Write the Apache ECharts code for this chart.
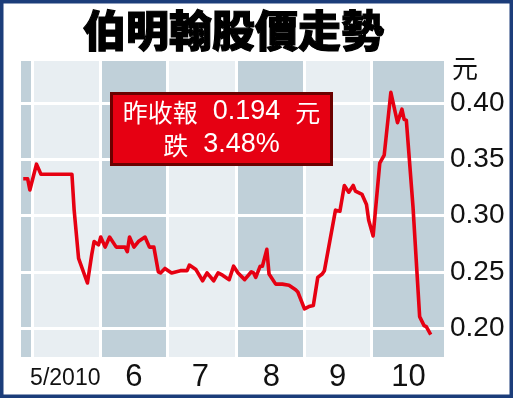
<!DOCTYPE html>
<html><head><meta charset="utf-8">
<script src="https://cdn.jsdelivr.net/npm/echarts@6/dist/echarts.min.js"></script>
<style>html,body{margin:0;padding:0;background:#fff}#c{width:513px;height:398px}</style>
</head><body><div id="c"></div>
<script>
// ---- data ----
const dates = ['2010-04-27','2010-04-29','2010-04-30','2010-05-03','2010-05-05','2010-05-10','2010-05-14','2010-05-19','2010-05-20','2010-05-22','2010-05-26','2010-05-28','2010-05-29','2010-05-31',
'2010-06-01','2010-06-03','2010-06-05','2010-06-08','2010-06-12','2010-06-13','2010-06-14','2010-06-16','2010-06-18','2010-06-21','2010-06-23','2010-06-25','2010-06-27','2010-06-28','2010-06-30',
'2010-07-03','2010-07-07','2010-07-10','2010-07-11','2010-07-14','2010-07-17','2010-07-19','2010-07-22','2010-07-24','2010-07-26','2010-07-29','2010-07-31',
'2010-08-02','2010-08-05','2010-08-08','2010-08-09','2010-08-10','2010-08-12','2010-08-13','2010-08-15','2010-08-16','2010-08-19','2010-08-22','2010-08-25','2010-08-28','2010-08-29',
'2010-09-01','2010-09-03','2010-09-05','2010-09-07','2010-09-09','2010-09-10','2010-09-15','2010-09-17','2010-09-19','2010-09-21','2010-09-23','2010-09-24','2010-09-27','2010-09-29','2010-09-30',
'2010-10-02','2010-10-05','2010-10-07','2010-10-10','2010-10-13','2010-10-15','2010-10-16','2010-10-17','2010-10-20','2010-10-23','2010-10-25','2010-10-26','2010-10-28'];
const prices = [0.333,0.333,0.323,0.346,0.337,0.337,0.337,0.337,0.305,0.262,0.240,0.266,0.277,0.274,
0.281,0.272,0.281,0.272,0.272,0.268,0.281,0.272,0.277,0.281,0.272,0.272,0.250,0.249,0.253,
0.249,0.251,0.251,0.256,0.252,0.242,0.249,0.242,0.249,0.247,0.243,0.255,
0.249,0.243,0.250,0.249,0.245,0.255,0.255,0.270,0.248,0.239,0.239,0.238,0.234,0.232,
0.217,0.219,0.220,0.245,0.248,0.251,0.305,0.304,0.327,0.321,0.327,0.322,0.319,0.310,0.296,
0.282,0.347,0.354,0.410,0.383,0.395,0.386,0.385,0.308,0.210,0.202,0.201,0.194];
const bandEdges = ['2010-04-26','2010-05-01','2010-06-01','2010-07-01','2010-08-01','2010-09-01','2010-10-01','2010-11-03'];
const monthStarts = ['2010-05-01','2010-06-01','2010-07-01','2010-08-01','2010-09-01','2010-10-01'];
const xLabelDates = ['2010-05-16','2010-06-16','2010-07-16','2010-08-17','2010-09-16','2010-10-18'];
const xLabels = ['5/2010','6','7','8','9','10'];
const yTicks = [0.20,0.25,0.30,0.35,0.40];
const titleText = '伯明翰股價走勢';
const unitText = '元';
const noteLine1 = ['昨收報', '0.194', '元'];
const noteLine2 = ['跌', '3.48%'];

// ---- build ----
function d(s){ const p = s.split('-').map(Number); return new Date(p[0], p[1]-1, p[2]).getTime(); }
const DARK = '#c0d0d9', LIGHT = '#e8eef2';
const bands = [];
for (let i = 0; i < bandEdges.length - 1; i++) {
  bands.push([{xAxis: d(bandEdges[i]), itemStyle: {color: i % 2 === 0 ? DARK : LIGHT}}, {xAxis: d(bandEdges[i+1])}]);
}
const gridLines = monthStarts.map(s => ({xAxis: d(s)})).concat(yTicks.map(v => ({yAxis: v})));
const lineData = dates.map((s, i) => [d(s), prices[i]]);
const labelMap = {};
xLabelDates.forEach((s, i) => { labelMap[d(s)] = xLabels[i]; });

const chart = echarts.init(document.getElementById('c'));
chart.setOption({
  animation: false,
  backgroundColor: '#fff',
  title: {
    text: titleText, left: 83, top: 9, padding: 0,
    textStyle: {fontSize: 43, fontWeight: 900, fontFamily: 'Noto Sans CJK TC', color: '#000',
      textBorderColor: '#000', textBorderWidth: 1.2}
  },
  grid: {left: 21, right: 69, top: 61, bottom: 41, containLabel: false},
  xAxis: {
    type: 'value', min: d(bandEdges[0]), max: d(bandEdges[bandEdges.length-1]),
    axisLine: {show: false}, axisTick: {show: false}, splitLine: {show: false},
    axisLabel: {
      customValues: xLabelDates.map(d), margin: 5, fontSize: 31,
      fontFamily: 'Liberation Sans, Arial, sans-serif', color: '#111', hideOverlap: false,
      formatter: function (v) { const t = labelMap[v] || ''; return t.indexOf('/') >= 0 ? '{n|' + t + '}' : t; },
      rich: {n: {fontFamily: 'Liberation Sans, Arial, sans-serif', fontSize: 23, color: '#111', padding: [5, 0, 0, 0]}}
    }
  },
  yAxis: {
    type: 'value', position: 'right', min: 0.174, max: 0.438,
    name: unitText, nameLocation: 'end', nameGap: 6,
    nameTextStyle: {align: 'left', verticalAlign: 'top', fontSize: 26, fontFamily: 'Noto Sans CJK TC', color: '#111', padding: [0,0,0,8]},
    axisLine: {show: false}, axisTick: {show: false}, splitLine: {show: false},
    axisLabel: {customValues: yTicks, margin: 6, fontSize: 28, fontFamily: 'Liberation Sans, Arial, sans-serif', color: '#111',
      formatter: v => v.toFixed(2)}
  },
  series: [
    {type: 'line', data: [], z: 1, silent: true,
      markArea: {silent: true, z: 1, data: bands}},
    {type: 'line', data: [], z: 2, silent: true,
      markLine: {silent: true, z: 2, symbol: 'none', label: {show: false}, lineStyle: {color: '#fff', width: 3, type: 'solid'}, data: gridLines}},
    {type: 'line', data: lineData, z: 10, showSymbol: false, symbol: 'none',
      lineStyle: {color: '#e60012', width: 3.6, join: 'round'}}
  ],
  graphic: [
    {type: 'rect', z: 100, shape: {x: 1.75, y: 1.75, width: 509.5, height: 394.5},
      style: {fill: null, stroke: '#1c3d7a', lineWidth: 3.5}},
    {type: 'rect', z: 100, shape: {x: 111.5, y: 93.5, width: 220, height: 71},
      style: {fill: '#e60012', stroke: '#6b0000', lineWidth: 3}},
    {type: 'text', z: 101, x: 221.5, y: 112,
      style: {text: '{c|' + noteLine1[0] + '}{d|  ' + noteLine1[1] + '  }{c|' + noteLine1[2] + '}',
        align: 'center', verticalAlign: 'middle', fill: '#fff',
        rich: {c: {fontSize: 25, fontFamily: 'Noto Sans CJK TC', fill: '#fff'}, d: {fontSize: 27, fontFamily: 'Liberation Sans, Arial', fill: '#fff'}}}},
    {type: 'text', z: 101, x: 221.5, y: 145,
      style: {text: '{c|' + noteLine2[0] + '}{d|  ' + noteLine2[1] + '}',
        align: 'center', verticalAlign: 'middle', fill: '#fff',
        rich: {c: {fontSize: 25, fontFamily: 'Noto Sans CJK TC', fill: '#fff'}, d: {fontSize: 27, fontFamily: 'Liberation Sans, Arial', fill: '#fff'}}}}
  ]
});
</script></body></html>
